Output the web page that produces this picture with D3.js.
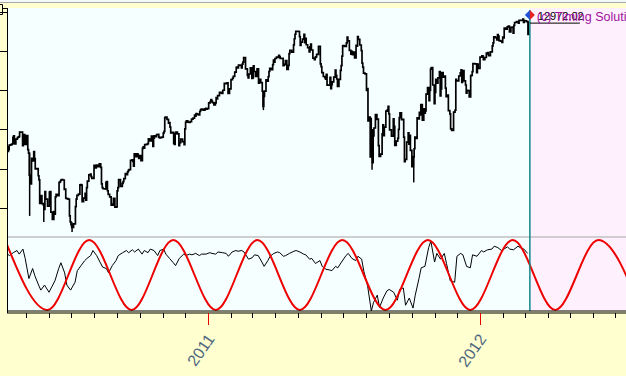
<!DOCTYPE html>
<html>
<head>
<meta charset="utf-8">
<script src="https://cdn.jsdelivr.net/npm/d3@7"></script>
<style>
  body { margin: 0; background: #ffffd0; }
  svg { display: block; }
</style>
</head>
<body>
<svg id="chart"></svg>
<script>
// daily closes (Dow), one per trading day, from 2010-04-06
var closes2010 = [
  10970,10897,10927,10997,11005,11019,11123,11144,11018,11092,11117,11124,11134,11204,11205,10991,11045,11167,11008,
  11151,10926,10868,10520,10380,10785,10748,10896,10782,10620,10625,10510,10444,10068,10193,10067,10043,9975,10259,10137,
  10025,10250,10256,9932,9816,9940,9899,10173,10212,10191,10405,10410,10434,10450,10442,10294,10298,10152,10144,10138,9870,9774,
  9732,9686,9744,10018,10139,10198,10216,10364,10367,10359,10098,10155,10230,10121,10322,10425,10525,10537,10497,10468,10466,
  10674,10636,10680,10675,10653,10699,10644,10379,10320,10303,10302,10405,10416,10271,10213,10174,10041,10060,10040,10150,10010,10015,
  10270,10320,10448,10341,10388,10416,10463,10545,10527,10573,10595,10608,10754,10762,10739,10662,10860,10812,10858,10835,10788,
  10830,10752,10945,10968,10948,11006,11010,11021,11096,11095,11063,11143,10978,11108,11146,11133,11164,11169,11126,11114,11118,
  11125,11188,11215,11434,11445,11406,11347,11357,11283,11193,11202,11023,11008,11182,11204,11178,10988,11037,11092,11052,11006,
  11256,11362,11382,11362,11359,11372,11370,11410,11428,11476,11457,11499,11492,11478,11533,11559,11573,11555,11575,11585,11569,11578
];
var closes2011 = [
  11670,11691,11722,11697,11675,11637,11671,11755,11732,11787,11837,11825,11823,11871,11980,11978,11985,11989,11823,11892,
  12040,12041,12062,12092,12161,12234,12240,12229,12273,12268,12226,12288,12318,12391,12213,12106,12068,12130,12226,
  12058,12066,12258,12170,12090,12214,12214,11984,12044,11993,11855,11613,11775,11858,12036,12018,12086,12170,12221,12198,12279,12350,12320,
  12377,12400,12393,12426,12409,12380,12381,12263,12270,12285,12342,12202,12266,12453,12506,12479,12595,12691,12763,12811,
  12808,12807,12724,12584,12639,12685,12761,12631,12696,12596,12548,12480,12561,12606,12512,12381,12357,12395,12403,12442,12570,
  12290,12248,12152,12090,12071,12049,12125,11952,11953,12076,11898,11962,12004,12081,12191,12110,12050,11934,12043,12188,12262,12414,
  12582,12569,12626,12719,12657,12505,12447,12491,12437,12480,12385,12587,12572,12724,12681,12592,12501,12302,12240,12143,
  12133,11867,11897,11384,11445,10810,11240,10720,11144,11270,11483,11406,11411,10991,10818,10855,11177,11321,11150,11285,11540,11560,11614,
  11494,11240,11140,11415,11296,10993,11062,11106,11247,11434,11510,11402,11409,11125,10734,10772,11044,11191,11011,11154,10913,
  10655,10809,10940,11124,11103,11433,11416,11519,11479,11644,11397,11577,11505,11542,11809,11913,11706,11869,12209,12232,11955,
  11658,11836,12044,11983,12069,12170,11781,11894,12153,12079,12096,11906,11771,11796,11547,11494,11257,11231,11523,11556,12046,
  12020,12019,12098,12150,12196,11997,12184,12022,11955,11824,11868,11866,11766,12103,12107,12169,12294,12291,12151,12288,12218
];
var closes2012 = [
  12398,12418,12416,12360,12393,12462,12450,12472,12422,12482,12579,12625,12720,12709,12675,12759,12735,12660,12654,12633,
  12716,12706,12862,12845,12879,12884,12891,12801,12874,12878,12781,12904,12950,12966,12938,12985,12983,12982,13005,12952,
  12980,12978,12963,12759,12837
];
var firstDay = "2010-04-06";
var holidays = ["2010-05-31","2010-07-05","2010-09-06","2010-11-25","2010-12-24",
  "2011-01-17","2011-02-21","2011-04-22","2011-05-30","2011-07-04","2011-09-05","2011-11-24","2011-12-26",
  "2012-01-02","2012-01-16","2012-02-20"];

// a few long intraday bars [date, low, high]
var wicks = [
  ["2010-05-06", 9870, 10880], ["2010-05-25", 9774, 10070], ["2010-07-02", 9614, 9770],
  ["2011-03-16", 11555, 11855], ["2011-08-08", 10810, 11433], ["2011-08-09", 10604, 11244],
  ["2011-10-04", 10404, 10819], ["2012-03-06", 12759, 12960]
];

// oscillator, one value every 3rd trading day (0..100)
var oscillator = [
  79,77,81,84,79,86,73,45,59,49,36,29,36,26,32,42,59,67,53,36,
  29,40,56,63,70,73,77,84,77,67,61,59,53,63,70,77,81,84,81,85,
  82,86,79,84,81,86,84,77,84,86,79,73,67,63,73,79,77,79,78,80,
  77,79,79,81,80,79,82,81,80,76,82,84,83,84,82,72,74,78,77,68,
  62,70,76,80,82,81,76,77,80,83,84,82,79,78,72,73,66,70,62,58,
  57,56,62,60,68,77,80,73,70,76,72,55,35,0,12,22,5,18,28,30,
  26,15,30,32,8,18,4,22,45,60,62,88,97,68,80,72,80,66,42,40,
  76,80,78,62,60,78,76,84,82,85,86,90,88,84,86,89,86,85,90,88,
  86,80
];

// cycle turning points: +1 top, -1 bottom
var cycleDates = ["2010-04-03","2010-05-30","2010-07-25","2010-09-20","2010-11-15","2011-01-11",
  "2011-03-08","2011-05-04","2011-06-30","2011-08-27","2011-10-23","2011-12-19","2012-02-14",
  "2012-04-11","2012-06-08","2012-08-04"];
var cycleValues = [1,-1,1,-1,1,-1,1,-1,1,-1,1,-1,1,-1,1,-1];

var priceTicks = [10000, 10625, 11250, 11875, 12500, 13125];
var yearTicks = ["2011-01-01", "2012-01-01"];
var yearLabels = ["2011", "2012"];
var lastDay = "2012-03-08";
var lastValue = "12972.02";
var credit = "(c) Timing Solution";

var w = 626, h = 376;
var left = 8, topY = 8, sepY = 237, botY = 311, axisY = 313;
var font = "'Liberation Sans', Arial, sans-serif";

var svg = d3.select("#chart").attr("width", w).attr("height", h);

var x = d3.scaleUtc()
  .domain([new Date("2011-01-01"), new Date("2012-01-01")])
  .range([208.3, 480]);
var y = d3.scaleLinear().domain([9614, 13181]).range([232, topY]);
var yOsc = d3.scaleLinear().domain([0, 100]).range([botY, 239]);
var yCyc = d3.scaleLinear().domain([-1, 1]).range([310, 240]);

// build trading days
function tradingDays(n) {
  var days = [], d = new Date(firstDay), hol = new Set(holidays);
  while (days.length < n) {
    var wd = d.getUTCDay(), key = d.toISOString().slice(0, 10);
    if (wd !== 0 && wd !== 6 && !hol.has(key)) days.push(new Date(d));
    d = d3.utcDay.offset(d, 1);
  }
  return days;
}
var closes = closes2010.concat(closes2011, closes2012);
var days = tradingDays(closes.length);
var prices = closes.map(function(c, i) { return { date: days[i], close: c }; });
var oscData = oscillator.map(function(v, k) { return { date: days[k * 3], v: v }; });
var cycle = cycleDates.map(function(d, i) { return { date: new Date(d), v: cycleValues[i] }; });

// backgrounds
svg.append("rect").attr("width", w).attr("height", h).attr("fill", "#ffffd0");
svg.append("rect").attr("width", w).attr("height", 2.5).attr("fill", "#f4f8f8");
svg.append("line").attr("x1", 0).attr("x2", w).attr("y1", 2.5).attr("y2", 2.5)
  .attr("stroke", "#a8a8a8").attr("stroke-width", 1);
svg.append("rect").attr("x", left).attr("y", topY).attr("width", w - left).attr("height", botY - topY)
  .attr("fill", "#f5ffff");
var xLast = x(new Date(lastDay));
svg.append("rect").attr("x", xLast).attr("y", topY).attr("width", w - xLast).attr("height", botY - topY)
  .attr("fill", "#fff0fe");
svg.append("line").attr("x1", left).attr("x2", w).attr("y1", sepY).attr("y2", sepY)
  .attr("stroke", "#c0c0c0").attr("stroke-width", 1.5);

var defs = svg.append("defs");
defs.append("clipPath").attr("id", "clipTop").append("rect")
  .attr("x", left).attr("y", topY).attr("width", w - left).attr("height", sepY - topY);
defs.append("clipPath").attr("id", "clipBot").append("rect")
  .attr("x", left).attr("y", sepY + 1).attr("width", w - left).attr("height", botY - sepY);

// price bars
svg.append("path").datum(prices)
  .attr("clip-path", "url(#clipTop)")
  .attr("fill", "none").attr("stroke", "#000").attr("stroke-width", 1.7)
  .attr("d", d3.line().x(function(d) { return x(d.date); }).y(function(d) { return y(d.close); })
    .curve(d3.curveStep));
svg.append("g").attr("clip-path", "url(#clipTop)").selectAll("line").data(wicks).join("line")
  .attr("x1", function(d) { return x(new Date(d[0])); })
  .attr("x2", function(d) { return x(new Date(d[0])); })
  .attr("y1", function(d) { return y(d[1]); })
  .attr("y2", function(d) { return y(d[2]); })
  .attr("stroke", "#000").attr("stroke-width", 1.5);

// oscillator + cycle
svg.append("path").datum(oscData)
  .attr("clip-path", "url(#clipBot)")
  .attr("fill", "none").attr("stroke", "#000").attr("stroke-width", 1)
  .attr("d", d3.line().x(function(d) { return x(d.date); }).y(function(d) { return yOsc(d.v); }));
svg.append("path").datum(cycle)
  .attr("clip-path", "url(#clipBot)")
  .attr("fill", "none").attr("stroke", "#ee0000").attr("stroke-width", 2)
  .attr("d", d3.line().x(function(d) { return x(d.date); }).y(function(d) { return yCyc(d.v); })
    .curve(d3.curveMonotoneX));

// last bar marker line
svg.append("line").attr("x1", xLast).attr("x2", xLast).attr("y1", 10).attr("y2", botY)
  .attr("stroke", "#108888").attr("stroke-width", 1.5);

// bottom axis
svg.append("line").attr("x1", left - 1).attr("x2", w).attr("y1", botY).attr("y2", botY)
  .attr("stroke", "#000").attr("stroke-width", 1);
svg.append("line").attr("x1", left - 1).attr("x2", w).attr("y1", axisY).attr("y2", axisY)
  .attr("stroke", "#000").attr("stroke-width", 1);
var months = d3.utcMonth.range(x.invert(left), x.invert(w));
svg.append("g").selectAll("line").data(months).join("line")
  .attr("x1", function(d) { return Math.round(x(d)) + 0.5; })
  .attr("x2", function(d) { return Math.round(x(d)) + 0.5; })
  .attr("y1", axisY).attr("y2", axisY + 5)
  .attr("stroke", "#000").attr("stroke-width", 1);
svg.append("g").selectAll("line").data(yearTicks).join("line")
  .attr("x1", function(d) { return Math.round(x(new Date(d))) + 0.5; })
  .attr("x2", function(d) { return Math.round(x(new Date(d))) + 0.5; })
  .attr("y1", axisY).attr("y2", axisY + 12)
  .attr("stroke", "#ee0000").attr("stroke-width", 1);
svg.append("g").selectAll("text").data(yearTicks).join("text")
  .attr("transform", function(d) { return "translate(" + (x(new Date(d)) + 7) + "," + (axisY + 26) + ") rotate(-55)"; })
  .attr("text-anchor", "end")
  .attr("font-family", font).attr("font-size", "16px")
  .attr("fill", "#4d6680")
  .text(function(d, i) { return yearLabels[i]; });

// left axis
svg.append("line").attr("x1", left - 0.5).attr("x2", left - 0.5).attr("y1", topY).attr("y2", axisY)
  .attr("stroke", "#000").attr("stroke-width", 1);
svg.append("g").selectAll("line").data(priceTicks).join("line")
  .attr("x1", 0).attr("x2", left)
  .attr("y1", function(d) { return Math.round(y(d)) + 0.5; })
  .attr("y2", function(d) { return Math.round(y(d)) + 0.5; })
  .attr("stroke", "#000").attr("stroke-width", 1);
svg.append("path").attr("d", "M0,4.5 H2.5 V14.5 H0 M2.5,8.5 H7.5")
  .attr("fill", "none").attr("stroke", "#000").attr("stroke-width", 1);

// last value marker and labels
var yv = y(+lastValue);
svg.append("line").attr("x1", xLast).attr("x2", xLast + 50).attr("y1", yv + 2).attr("y2", yv + 2)
  .attr("stroke", "#000").attr("stroke-width", 1);
svg.append("text").attr("x", xLast + 8).attr("y", 19.5)
  .attr("font-family", font).attr("font-size", "11px").attr("fill", "#000")
  .text(lastValue);
svg.append("text").attr("x", xLast + 7).attr("y", 21)
  .attr("font-family", font).attr("font-size", "12.5px").attr("fill", "#a010a0")
  .text(credit);
var dy = yv - 6;
svg.append("path").attr("d", "M" + xLast + "," + (dy - 5) + " L" + (xLast - 5) + "," + dy + " L" + xLast + "," + (dy + 5) + "Z")
  .attr("fill", "#1e50e0");
svg.append("path").attr("d", "M" + xLast + "," + (dy - 5) + " L" + (xLast + 5) + "," + dy + " L" + xLast + "," + (dy + 5) + "Z")
  .attr("fill", "#e82020");
</script>
</body>
</html>
